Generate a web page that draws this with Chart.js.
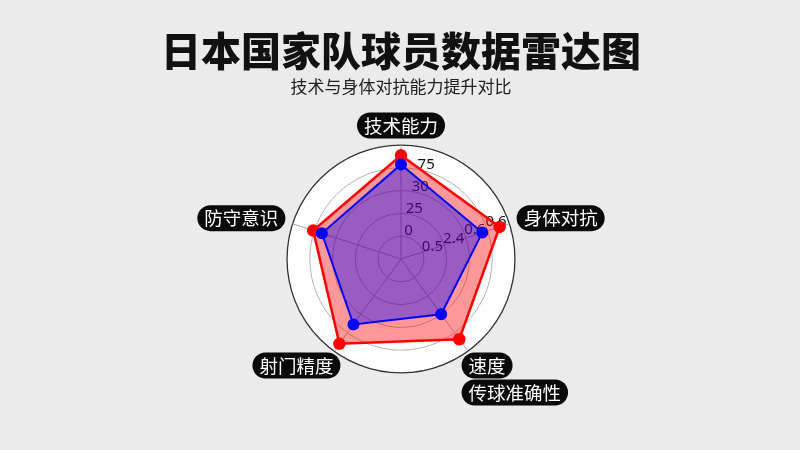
<!DOCTYPE html>
<html>
<head>
<meta charset="utf-8">
<script src="https://cdn.jsdelivr.net/npm/chart.js@4"></script>
<style>
html,body{margin:0;padding:0;background:#ebebeb;}
#wrap{width:800px;height:450px;position:relative;}
</style>
</head>
<body>
<div id="wrap"><canvas id="c"></canvas></div>
<script>
const categories = ['技术能力', '身体对抗', ['速度', '传球准确性'], '射门精度', '防守意识'];
const seriesNames = ['提升前', '提升后'];
const beforeValues = [83, 75, 60, 71, 73];
const afterValues = [91, 91, 87, 92, 81];
const ringValues = [20, 40, 60, 80];
const tickLabelsA = ['0', '25', '30', '75'];
const tickLabelsB = ['0.5', '2.4', '0.6', '0.6'];

const CJK = '"Noto Sans CJK SC", "Noto Sans", sans-serif';

const labelPills = {
  id: 'labelPills',
  beforeDraw(chart) {
    const s = chart.scales.r;
    const items = s._pointLabelItems || [];
    const ctx = chart.ctx;
    ctx.save();
    ctx.fillStyle = '#0a0a0a';
    items.forEach((it, i) => {
      const f = Chart.helpers.toFont(s.options.pointLabels.setContext(s.getPointLabelContext(i)).font);
      ctx.font = f.string;
      const lines = [].concat(s._pointLabels[i]);
      lines.forEach((line, j) => {
        const w = ctx.measureText(line).width;
        const left = it.textAlign === 'left' ? it.x : (it.textAlign === 'right' ? it.x - w : it.x - w / 2);
        const cy = it.top + f.lineHeight * (j + 0.5);
        ctx.beginPath();
        ctx.roundRect(left - 7, cy - 13, w + 14, 26, 13);
        ctx.fill();
      });
    });
    ctx.restore();
  }
};

const tickText = {
  id: 'tickText',
  beforeDatasetsDraw(chart) {
    const s = chart.scales.r;
    const ctx = chart.ctx;
    ctx.save();
    ctx.font = '15px "Noto Sans", "DejaVu Sans", sans-serif';
    ctx.fillStyle = '#111111';
    ctx.textAlign = 'center';
    ctx.textBaseline = 'middle';
    const put = (txt, deg, dist) => {
      const a = deg * Math.PI / 180;
      ctx.fillText(txt, s.xCenter + dist * Math.sin(a), s.yCenter - dist * Math.cos(a));
    };
    ringValues.forEach((v, i) => {
      const d = s.getDistanceFromCenterForValue(v);
      put(tickLabelsA[i], 15, d + 6);
      put(tickLabelsB[i], 68.5, d + 11);
    });
    ctx.restore();
  }
};

new Chart(document.getElementById('c'), {
  type: 'radar',
  data: {
    labels: categories,
    datasets: [
      {
        label: seriesNames[0],
        data: beforeValues,
        borderColor: '#0000ff',
        backgroundColor: 'rgba(0,0,255,0.4)',
        pointBackgroundColor: '#0000ff',
        pointBorderColor: '#0000ff',
        borderWidth: 2,
        pointRadius: 5,
        fill: true
      },
      {
        label: seriesNames[1],
        data: afterValues,
        borderColor: '#ff0000',
        backgroundColor: 'rgba(255,0,0,0.4)',
        pointBackgroundColor: '#ff0000',
        pointBorderColor: '#ff0000',
        borderWidth: 2.5,
        pointRadius: 5,
        fill: true
      }
    ]
  },
  options: {
    responsive: true,
    maintainAspectRatio: false,
    animation: false,
    layout: { padding: { top: 0, bottom: 43, left: 2, right: 0 } },
    elements: { line: { tension: 0 } },
    plugins: {
      legend: { display: false },
      tooltip: { enabled: false },
      title: {
        display: true,
        text: '日本国家队球员数据雷达图',
        color: '#111',
        font: { family: CJK, size: 40, weight: '900', lineHeight: 1.2 },
        padding: { top: 27, bottom: 0 }
      },
      subtitle: {
        display: true,
        text: '技术与身体对抗能力提升对比',
        color: '#222',
        font: { family: CJK, size: 17, lineHeight: 1.2 },
        padding: { top: 1, bottom: 16.6 }
      }
    },
    scales: {
      r: {
        min: 0,
        max: 100,
        backgroundColor: '#ffffff',
        ticks: { display: false, stepSize: 20 },
        grid: {
          circular: true,
          color: c => (c.tick && c.tick.value === 100) ? '#333333' : '#b4b4b4',
          lineWidth: c => (c.tick && c.tick.value === 100) ? 1.3 : 1
        },
        angleLines: { color: '#a8a8a8', lineWidth: 1 },
        pointLabels: {
          color: '#ffffff',
          padding: c => [6, 15, 1, 1, 15][c.index],
          font: c => ({ family: CJK, size: 18.5, lineHeight: (c.index === 1 || c.index === 4) ? '2px' : '27px' })
        }
      }
    }
  },
  plugins: [labelPills, tickText]
});
</script>
</body>
</html>
